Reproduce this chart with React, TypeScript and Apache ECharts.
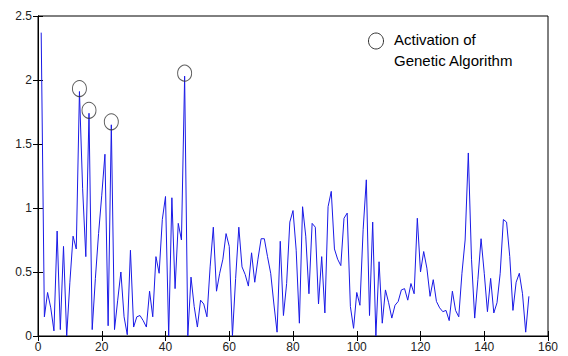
import React, { useEffect, useRef } from "react";
import * as echarts from "echarts";

// Signal values, sample index starts at 1
const values: number[] = [
  2.37, 0.15, 0.34, 0.22, 0.04, 0.82, 0.05, 0.7, 0.0, 0.42,
  0.78, 0.68, 1.91, 1.15, 0.62, 1.74, 0.05, 0.45, 0.8, 1.1,
  1.42, 0.08, 1.65, 0.05, 0.28, 0.5, 0.15, 0.01, 0.67, 0.07,
  0.15, 0.16, 0.12, 0.07, 0.35, 0.15, 0.62, 0.49, 0.91, 1.09,
  0.0, 1.08, 0.37, 0.88, 0.75, 2.03, 0.0, 0.46, 0.23, 0.07,
  0.28, 0.25, 0.15, 0.54, 0.85, 0.35, 0.49, 0.6, 0.8, 0.7,
  0.0, 0.45, 0.85, 0.54, 0.48, 0.39, 0.65, 0.42, 0.6, 0.76,
  0.76, 0.62, 0.49, 0.25, 0.03, 0.74, 0.16, 0.41, 0.89, 0.98,
  0.67, 0.1, 1.01, 0.78, 0.33, 0.88, 0.85, 0.25, 0.62, 0.18,
  1.01, 1.13, 0.68, 0.6, 0.55, 0.92, 0.96, 0.23, 0.06, 0.34,
  0.24, 0.83, 1.22, 0.16, 0.89, 0.0, 0.58, 0.1, 0.36, 0.26,
  0.14, 0.24, 0.27, 0.36, 0.37, 0.28, 0.41, 0.33, 0.92, 0.5,
  0.66, 0.53, 0.31, 0.44, 0.27, 0.22, 0.19, 0.2, 0.12, 0.35,
  0.2, 0.15, 0.49, 0.75, 1.43, 0.6, 0.14, 0.44, 0.76, 0.49,
  0.19, 0.45, 0.18, 0.26, 0.49, 0.91, 0.89, 0.62, 0.2, 0.42,
  0.49, 0.33, 0.03, 0.31,
];

// Sample indices where the genetic algorithm was activated
const activationIndices: number[] = [13, 16, 23, 46];

const legendLines: string[] = ["Activation of", "Genetic Algorithm"];

const xMin = 0;
const xMax = 160;
const xInterval = 20;
const yMin = 0;
const yMax = 2.5;
const yInterval = 0.5;

const FONT = "'Liberation Sans', Arial, sans-serif";

export default function App() {
  const ref = useRef<HTMLDivElement>(null);

  useEffect(() => {
    if (!ref.current) return;
    const chart = echarts.init(ref.current, undefined, { renderer: "svg" });

    const lineData = values.map((v, i) => [i + 1, v]);
    const peakData = activationIndices.map((idx) => [idx, values[idx - 1]]);

    const tickStyle = { show: true, inside: true, length: 5, lineStyle: { color: "#000", width: 1 } };

    chart.setOption({
      animation: false,
      backgroundColor: "#fff",
      grid: {
        left: 38,
        right: 20,
        top: 16,
        bottom: 20,
        show: true,
        borderColor: "#000",
        borderWidth: 1,
        backgroundColor: "transparent",
      },
      xAxis: [
        {
          type: "value",
          min: xMin,
          max: xMax,
          interval: xInterval,
          axisLine: { show: true, lineStyle: { color: "#000" } },
          axisTick: tickStyle,
          splitLine: { show: false },
          axisLabel: { color: "#222", fontSize: 12, fontFamily: FONT, margin: 5 },
        },
        {
          type: "value",
          position: "top",
          min: xMin,
          max: xMax,
          interval: xInterval,
          axisLine: { show: true, lineStyle: { color: "#000" } },
          axisTick: tickStyle,
          splitLine: { show: false },
          axisLabel: { show: false },
        },
      ],
      yAxis: [
        {
          type: "value",
          min: yMin,
          max: yMax,
          interval: yInterval,
          axisLine: { show: true, lineStyle: { color: "#000" } },
          axisTick: tickStyle,
          splitLine: { show: false },
          axisLabel: { color: "#222", fontSize: 12, fontFamily: FONT, margin: 6 },
        },
        {
          type: "value",
          position: "right",
          min: yMin,
          max: yMax,
          interval: yInterval,
          axisLine: { show: true, lineStyle: { color: "#000" } },
          axisTick: tickStyle,
          splitLine: { show: false },
          axisLabel: { show: false },
        },
      ],
      series: [
        {
          type: "line",
          data: lineData,
          symbol: "none",
          lineStyle: { color: "#1a1ae6", width: 1 },
          xAxisIndex: 0,
          yAxisIndex: 0,
        },
        {
          type: "scatter",
          data: peakData,
          symbol: "circle",
          symbolSize: [14, 16],
          symbolOffset: [0, -3],
          itemStyle: { color: "rgba(0,0,0,0)", borderColor: "#333", borderWidth: 1 },
          xAxisIndex: 0,
          yAxisIndex: 0,
          z: 5,
        },
      ],
      graphic: [
        {
          type: "ellipse",
          shape: { cx: 376, cy: 41, rx: 7.5, ry: 8 },
          style: { fill: "none", stroke: "#333", lineWidth: 1 },
        },
        {
          type: "text",
          x: 394,
          y: 39,
          style: {
            text: legendLines[0],
            fontSize: 15,
            fontFamily: FONT,
            fill: "#000",
            verticalAlign: "middle",
          },
        },
        {
          type: "text",
          x: 394,
          y: 60,
          style: {
            text: legendLines[1],
            fontSize: 15,
            fontFamily: FONT,
            fill: "#000",
            verticalAlign: "middle",
          },
        },
      ],
    });

    return () => chart.dispose();
  }, []);

  return (
    <div
      ref={ref}
      style={{ position: "absolute", left: 0, top: 0, width: 568, height: 356 }}
    />
  );
}
